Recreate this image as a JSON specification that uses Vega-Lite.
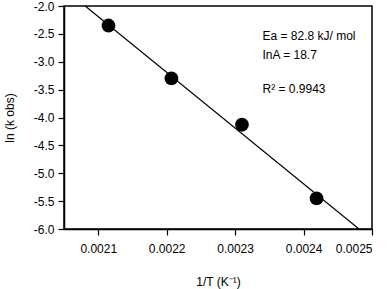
{
  "$schema": "https://vega.github.io/schema/vega-lite/v6.json",
  "autosize": "none",
  "width": 308,
  "height": 223,
  "padding": {"left": 64, "top": 6, "right": 20, "bottom": 60},
  "background": "white",
  "config": {
    "font": "Liberation Sans",
    "view": {"stroke": "black", "strokeWidth": 1.5},
    "axis": {"grid": false, "domainColor": "black", "tickColor": "black", "labelColor": "black", "titleColor": "black", "labelFont": "Liberation Sans", "titleFont": "Liberation Sans", "labelFontSize": 12, "titleFontSize": 12, "titleFontWeight": "normal", "tickSize": 6, "domainWidth": 1.5, "tickWidth": 1.2, "labelOverlap": false}
  },
  "datasets": {
    "points": [
      {"x": 0.002115, "y": -2.35},
      {"x": 0.002207, "y": -3.30},
      {"x": 0.002310, "y": -4.13},
      {"x": 0.002419, "y": -5.45}
    ],
    "fit": [
      {"x": 0.002081, "y": -2.0},
      {"x": 0.002481, "y": -6.0}
    ],
    "notes": [
      {"x": 0.00234, "y": -2.54, "label": "Ea = 82.8 kJ/ mol"},
      {"x": 0.00234, "y": -2.88, "label": "InA = 18.7"},
      {"x": 0.00234, "y": -3.49, "label": "R² = 0.9943"}
    ]
  },
  "encoding": {
    "x": {"field": "x", "type": "quantitative", "scale": {"domain": [0.00205, 0.0025], "nice": false, "zero": false}, "axis": {"values": [0.0021, 0.0022, 0.0023, 0.0024, 0.0025], "format": ".4f", "title": "1/T (K⁻¹)", "labelPadding": 8, "titlePadding": 22}},
    "y": {"field": "y", "type": "quantitative", "scale": {"domain": [-6, -2], "nice": false, "zero": false}, "axis": {"values": [-6, -5.5, -5, -4.5, -4, -3.5, -3, -2.5, -2], "labelExpr": "replace(format(datum.value, '.1f'), '\u2212', '-')", "labelOverlap": false, "tickCount": 9, "title": "ln (k obs)", "labelPadding": 4, "titlePadding": 17}}
  },
  "layer": [
    {
      "data": {"name": "fit"},
      "mark": {"type": "line", "color": "black", "strokeWidth": 1.2, "clip": true}
    },
    {
      "data": {"name": "points"},
      "mark": {"type": "point", "filled": true, "color": "black", "opacity": 1, "size": 190}
    },
    {
      "data": {"name": "notes"},
      "mark": {"type": "text", "align": "left", "baseline": "middle", "fontSize": 12, "color": "black", "font": "Liberation Sans"},
      "encoding": {
        "text": {"field": "label"}
      }
    }
  ]
}
